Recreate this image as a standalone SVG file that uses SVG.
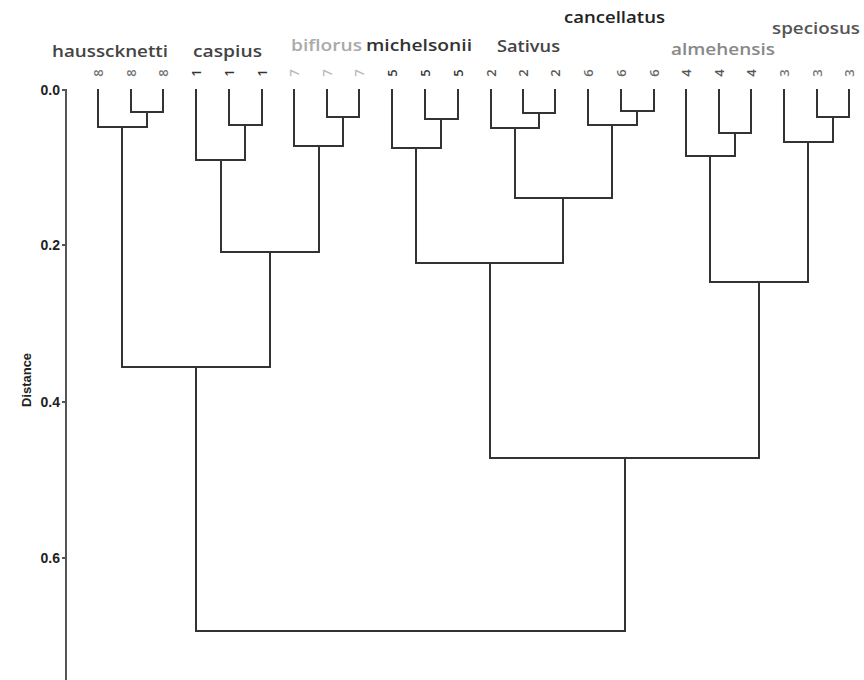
<svg xmlns="http://www.w3.org/2000/svg" width="864" height="680" viewBox="0 0 864 680">
<style>
.bg{fill:#ffffff}
.tree{fill:none;stroke:#333333;stroke-width:2;stroke-linejoin:miter;stroke-linecap:square}
.axis{fill:none;stroke:#555555;stroke-width:2}
.tick{font-family:"Liberation Sans",Arial,sans-serif;font-weight:bold;font-size:14px;fill:#222222;text-anchor:end}
.title{font-family:"Liberation Sans",Arial,sans-serif;font-weight:bold;font-size:13px;fill:#222222;text-anchor:middle}
.sp{font-family:"Open Sans","Liberation Sans",sans-serif;font-weight:600;font-size:17px}
.num{font-family:"Open Sans","Liberation Sans",sans-serif;font-weight:600;font-size:13px;text-anchor:middle}
</style>
<rect class="bg" x="0" y="0" width="864" height="680"/>
<g id="axis">
<path class="axis" d="M62,90H66V680 M62,245H66 M62,402H66 M62,558H66"/>
<text class="tick" x="60" y="95">0.0</text>
<text class="tick" x="60" y="250">0.2</text>
<text class="tick" x="60" y="407">0.4</text>
<text class="tick" x="60" y="563">0.6</text>
<text class="title" transform="translate(31,380) rotate(-90)">Distance</text>
</g>
<g id="connectors">
<path class="tree" d="M131,90V112H163V90 M98,90V127H147V112"/>
<path class="tree" d="M229,90V125H262V90 M196,90V160H245V125"/>
<path class="tree" d="M327,90V117H359V90 M294,90V146H343V117"/>
<path class="tree" d="M221,160V252H319V146"/>
<path class="tree" d="M122,127V367H270V252"/>
<path class="tree" d="M425,90V119H458V90 M392,90V148H441V119"/>
<path class="tree" d="M523,90V113H555V90 M491,90V128H539V113"/>
<path class="tree" d="M621,90V111H654V90 M588,90V125H637V111"/>
<path class="tree" d="M515,128V198H612V125"/>
<path class="tree" d="M416,148V263H563V198"/>
<path class="tree" d="M719,90V133H751V90 M686,90V156H735V133"/>
<path class="tree" d="M817,90V117H849V90 M784,90V142H833V117"/>
<path class="tree" d="M710,156V282H808V142"/>
<path class="tree" d="M490,263V458H759V282"/>
<path class="tree" d="M196,367V631H625V458"/>
</g>
<g id="hausscknetti">
<text class="sp" x="52" y="57" fill="#444444" textLength="116" lengthAdjust="spacingAndGlyphs">hausscknetti</text>
<g class="num" fill="#777777">
<text transform="translate(98,73) rotate(-90)" dy="0.35em">8</text>
<text transform="translate(131,73) rotate(-90)" dy="0.35em">8</text>
<text transform="translate(163,73) rotate(-90)" dy="0.35em">8</text>
</g>
</g>
<g id="caspius">
<text class="sp" x="193" y="57" fill="#444444" textLength="69" lengthAdjust="spacingAndGlyphs">caspius</text>
<g class="num" fill="#333333">
<text transform="translate(196,73) rotate(-90)" dy="0.35em">1</text>
<text transform="translate(229,73) rotate(-90)" dy="0.35em">1</text>
<text transform="translate(262,73) rotate(-90)" dy="0.35em">1</text>
</g>
</g>
<g id="biflorus">
<text class="sp" x="291" y="51" fill="#aaaaaa" textLength="71" lengthAdjust="spacingAndGlyphs">biflorus</text>
<g class="num" fill="#bbbbbb">
<text transform="translate(294,73) rotate(-90)" dy="0.35em">7</text>
<text transform="translate(327,73) rotate(-90)" dy="0.35em">7</text>
<text transform="translate(359,73) rotate(-90)" dy="0.35em">7</text>
</g>
</g>
<g id="michelsonii">
<text class="sp" x="366" y="51" fill="#333333" textLength="106" lengthAdjust="spacingAndGlyphs">michelsonii</text>
<g class="num" fill="#333333">
<text transform="translate(392,73) rotate(-90)" dy="0.35em">5</text>
<text transform="translate(425,73) rotate(-90)" dy="0.35em">5</text>
<text transform="translate(458,73) rotate(-90)" dy="0.35em">5</text>
</g>
</g>
<g id="sativus">
<text class="sp" x="497" y="52" fill="#444444" textLength="63" lengthAdjust="spacingAndGlyphs">Sativus</text>
<g class="num" fill="#555555">
<text transform="translate(491,73) rotate(-90)" dy="0.35em">2</text>
<text transform="translate(523,73) rotate(-90)" dy="0.35em">2</text>
<text transform="translate(555,73) rotate(-90)" dy="0.35em">2</text>
</g>
</g>
<g id="cancellatus">
<text class="sp" x="564" y="23" fill="#222222" textLength="101" lengthAdjust="spacingAndGlyphs">cancellatus</text>
<g class="num" fill="#666666">
<text transform="translate(588,73) rotate(-90)" dy="0.35em">6</text>
<text transform="translate(621,73) rotate(-90)" dy="0.35em">6</text>
<text transform="translate(654,73) rotate(-90)" dy="0.35em">6</text>
</g>
</g>
<g id="almehensis">
<text class="sp" x="671" y="55" fill="#888888" textLength="104" lengthAdjust="spacingAndGlyphs">almehensis</text>
<g class="num" fill="#555555">
<text transform="translate(686,73) rotate(-90)" dy="0.35em">4</text>
<text transform="translate(719,73) rotate(-90)" dy="0.35em">4</text>
<text transform="translate(751,73) rotate(-90)" dy="0.35em">4</text>
</g>
</g>
<g id="speciosus">
<text class="sp" x="772" y="34" fill="#555555" textLength="88" lengthAdjust="spacingAndGlyphs">speciosus</text>
<g class="num" fill="#777777">
<text transform="translate(784,73) rotate(-90)" dy="0.35em">3</text>
<text transform="translate(817,73) rotate(-90)" dy="0.35em">3</text>
<text transform="translate(849,73) rotate(-90)" dy="0.35em">3</text>
</g>
</g>
</svg>
